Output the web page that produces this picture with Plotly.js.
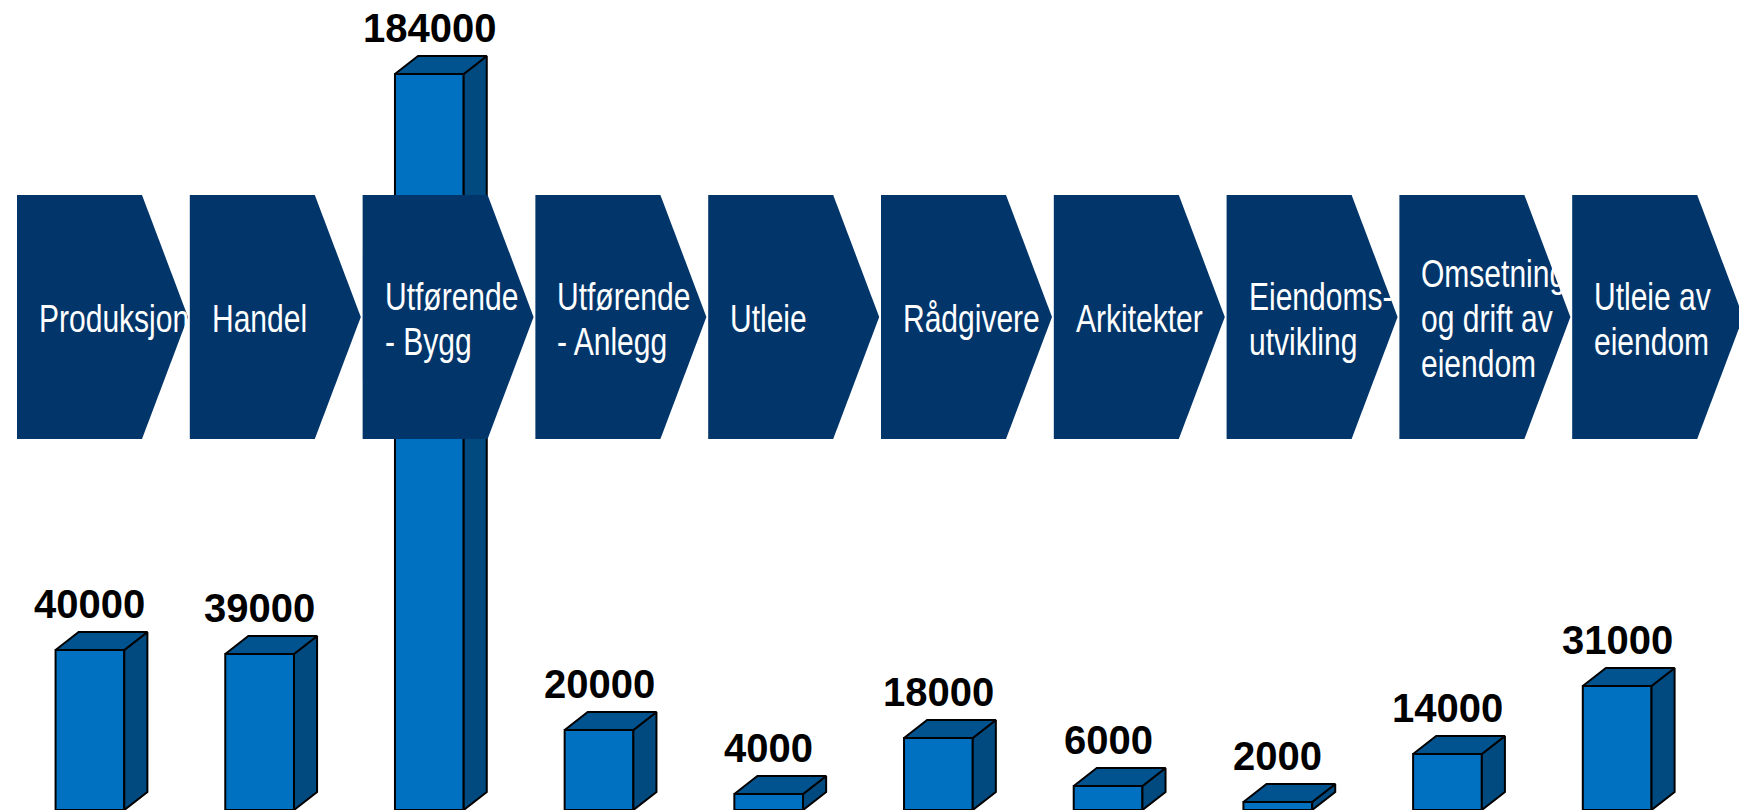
<!DOCTYPE html>
<html><head><meta charset="utf-8">
<script src="https://cdn.plot.ly/plotly-3.0.1.min.js"></script>
<style>html,body{margin:0;padding:0;background:#fff;} #chart{width:1739px;height:810px;}</style>
</head><body><div id="chart"></div>
<script>
// ---- data ----
const categories = ["Produksjon", "Handel", "Utførende<br>- Bygg", "Utførende<br>- Anlegg", "Utleie", "Rådgivere", "Arkitekter", "Eiendoms-<br>utvikling", "Omsetning<br>og drift av<br>eiendom", "Utleie av<br>eiendom"];
const values = [40000, 39000, 184000, 20000, 4000, 18000, 6000, 2000, 14000, 31000];
const valueLabels = values.map(v => String(v));

// ---- layout constants ----
const W = 1739, H = 810;
const barW = 0.405, dx = 0.136, dy = 4500;
const colFront = '#0070C0', colTop = '#00538E', colSide = '#004A7F', colChev = '#02366B';

const idx = categories.map((c, i) => i);
const sx = [], sy = [], tx = [], ty = [];
idx.forEach(i => {
  const v = values[i], l = i - barW / 2, r = i + barW / 2;
  sx.push(r, r + dx, r + dx, r, r, null); sy.push(0, dy, v + dy, v, 0, null);
  tx.push(l, l + dx, r + dx, r, l, null); ty.push(v, v + dy, v + dy, v, v, null);
});

const traces = [
  {type: 'bar', x: idx, y: values, width: barW, marker: {color: colFront, line: {color: '#000', width: 2}}, hoverinfo: 'skip'},
  {type: 'scatter', mode: 'lines', x: sx, y: sy, fill: 'toself', fillcolor: colSide, line: {color: '#000', width: 2}, hoverinfo: 'skip'},
  {type: 'scatter', mode: 'lines', x: tx, y: ty, fill: 'toself', fillcolor: colTop, line: {color: '#000', width: 2}, hoverinfo: 'skip'}
];

// chevrons (decorative category headers), in pixel -> paper coordinates
const chevLeft0 = 17, chevStep = 172.8, chevBody = 125, chevTip = 46, chevTop = 195, chevBot = 439;
const lineGap = 45, chevFont = 38, condense = 0.79;
const px = x => x / W, py = y => 1 - y / H;
const shapes = [], annotations = [];
categories.forEach((c, i) => {
  const L = chevLeft0 + i * chevStep, S = L + chevBody, T = S + chevTip, M = (chevTop + chevBot) / 2;
  shapes.push({type: 'path', xref: 'paper', yref: 'paper', layer: 'above',
    path: `M ${px(L)},${py(chevTop)} L ${px(S)},${py(chevTop)} L ${px(T)},${py(M)} L ${px(S)},${py(chevBot)} L ${px(L)},${py(chevBot)} Z`,
    fillcolor: colChev, line: {width: 0}});
  const lines = c.split('<br>');
  lines.forEach((ln, k) => {
    const yc = M + 2 + (k - (lines.length - 1) / 2) * lineGap;
    annotations.push({xref: 'paper', yref: 'paper', x: px(L + 20), y: py(yc), xanchor: 'left', yanchor: 'middle', align: 'left',
      text: ln, showarrow: false,
      font: {family: 'Liberation Sans Narrow, Arial Narrow, Liberation Sans, Arial, sans-serif', size: chevFont, color: '#ffffff'}});
  });
});
const nChevText = annotations.length;
idx.forEach(i => {
  annotations.push({xref: 'x', yref: 'y', x: i, y: values[i], xanchor: 'center', yanchor: 'bottom', yshift: 22,
    text: '<b>' + valueLabels[i] + '</b>', showarrow: false,
    font: {family: 'Liberation Sans, Arial, sans-serif', size: 40, color: '#000'}});
});

const layout = {
  width: W, height: H, margin: {l: 0, r: 0, t: 0, b: 0},
  paper_bgcolor: '#fff', plot_bgcolor: '#fff', showlegend: false,
  xaxis: {range: [-0.530, 9.718], visible: false, fixedrange: true},
  yaxis: {range: [0, 202500], visible: false, fixedrange: true},
  shapes: shapes, annotations: annotations
};
Plotly.newPlot('chart', traces, layout, {displayModeBar: false, staticPlot: true}).then(gd => {
  // the chevron labels use a narrow typeface in the original; condense them horizontally
  gd.querySelectorAll('.annotation').forEach(a => {
    const k = +a.getAttribute('data-index');
    if (k < nChevText) {
      const t = a.querySelector('text.annotation-text');
      if (!t) return;
      const x0 = t.getBBox().x;
      t.setAttribute('transform', `translate(${x0},0) scale(${condense},1) translate(${-x0},0)`);
    }
  });
});
</script></body></html>
